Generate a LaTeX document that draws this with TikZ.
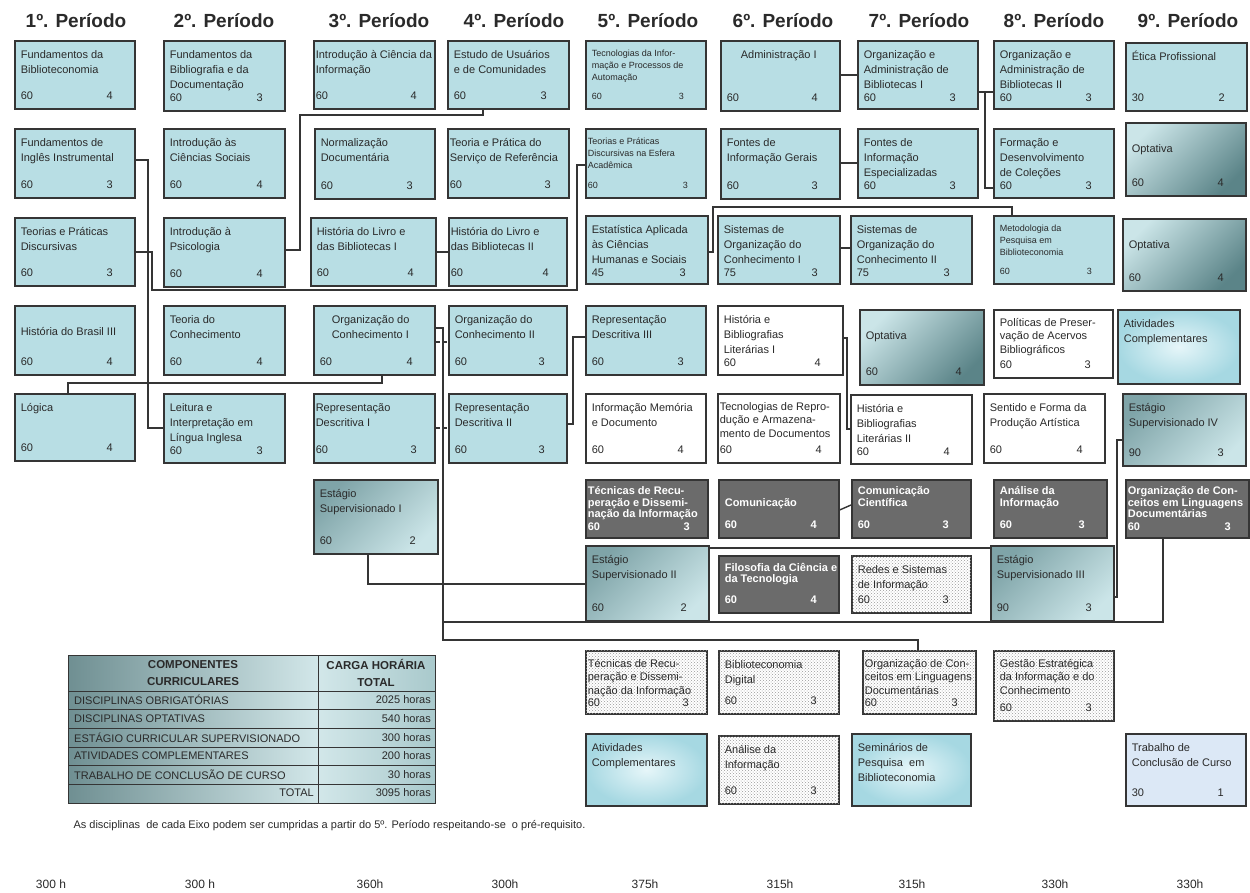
\documentclass[tikz,border=0pt]{standalone}
\usepackage{fontspec}
\setmainfont{Liberation Sans}
\usetikzlibrary{patterns}

\definecolor{boxblue}{HTML}{B8DEE4}
\definecolor{boxline}{HTML}{353535}
\definecolor{txt}{HTML}{2A2A2A}
\definecolor{darkfill}{HTML}{6B6B6B}
\definecolor{gradlight}{HTML}{CBE5E8}
\definecolor{graddark}{HTML}{5B8488}
\definecolor{stagedark}{HTML}{7FA4A8}
\definecolor{bubin}{HTML}{E6F6F9}
\definecolor{bubout}{HTML}{A6D8E2}
\definecolor{tccblue}{HTML}{DCE8F6}
\definecolor{tabdark}{HTML}{6F8F92}
\definecolor{tablight}{HTML}{D2E7E9}
\definecolor{tabmid}{HTML}{A9C9CC}

\newcommand{\discindent}{6pt}
\newcommand{\discdrop}{0pt}
% one course box: name, style, corner, width, height, title, hours, credits
\newcommand{\disc}[8]{%
  \node[box, #2, inner xsep=\discindent, anchor=north west] (#1) at #3
    {\begin{minipage}[t][\dimexpr#5pt-14pt\relax][s]{\dimexpr#4pt-\discindent-\discindent\relax}%
      \vspace*{\discdrop}\begin{tabular}[t]{@{}l@{}}#6\end{tabular}\par\vfill
      #7\hfill #8\hspace*{16pt}\par\vspace*{2pt}\end{minipage}};%
}

\tikzset{
  box/.style={draw=boxline, line width=1.6pt, fill=boxblue, text=txt,
    inner ysep=7pt, font=\fontsize{11}{15}\selectfont},
  whitebox/.style={fill=white},
  darkbox/.style={fill=darkfill, text=white, font=\bfseries\fontsize{11}{11.5}\selectfont},
  dotbox/.style={fill=white, postaction={pattern=crosshatch dots, pattern color=gray!80}},
  optbox/.style={top color=gradlight, bottom color=graddark, shading angle=45},
  stagebox/.style={top color=stagedark, bottom color=gradlight, shading angle=45},
  bubble/.style={inner color=bubin, outer color=bubout},
  tccbox/.style={fill=tccblue},
  smalltxt/.style={font=\fontsize{9}{12}\selectfont},
  densetxt/.style={font=\fontsize{11}{13.5}\selectfont},
  tightbox/.code={\def\discindent{2pt}},
  dropbox/.code={\def\discdrop{12pt}},
  link/.style={draw=boxline, line width=1.4pt},
  head/.style={font=\bfseries\fontsize{19}{21}\selectfont, text=txt},
  tabrule/.style={draw=boxline, line width=1pt},
  tabhead/.style={font=\bfseries\fontsize{11.5}{17}\selectfont, align=center, text=txt},
  tabcell/.style={font=\fontsize{11}{12}\selectfont, inner sep=0pt, text=txt},
  note/.style={font=\fontsize{11}{13}\selectfont, text=txt},
  hours/.style={font=\fontsize{12}{14}\selectfont, text=txt}
}

\begin{document}
\begin{tikzpicture}[x=1pt, y=-1pt]
    \useasboundingbox (0,0) rectangle (1250,892);
    \fill[white] (0,0) rectangle (1250,892);

    % Periods
    \foreach \n/\x in {1/76, 2/224, 3/379, 4/514, 5/648, 6/783, 7/919, 8/1054, 9/1188}
      \node[head] (p\n) at (\x,21) {{\n}º. Período};

    % 1st row
    \disc{fb}{}{(14,40)}{120}{68}{Fundamentos da\\Biblioteconomia}{60}{4}
    \disc{fbd}{}{(163,40)}{121}{70}{Fundamentos da\\Bibliografia e da\\Documentação}{60}{3}
    \disc{ici}{tightbox}{(313,40)}{121}{68}{Introdução à Ciência da\\Informação}{60}{4}
    \disc{euc}{}{(447,40)}{121}{68}{Estudo de Usuários\\e de Comunidades}{60}{3}
    \disc{tip}{smalltxt}{(585,40)}{120}{68}{Tecnologias da Infor-\\mação e Processos de\\Automação}{60}{3}
    \disc{adm}{}{(720,40)}{119}{70}{\hspace*{14pt}Administração I}{60}{4}
    \disc{oab1}{}{(857,40)}{120}{68}{Organização e\\Administração de\\Bibliotecas I}{60}{3}
    \disc{oab2}{}{(993,40)}{120}{68}{Organização e\\Administração de\\Bibliotecas II}{60}{3}
    \disc{etp}{}{(1125,42)}{121}{68}{Ética Profissional}{30}{2}

    % 2nd row
    \disc{fii}{}{(14,128)}{120}{69}{Fundamentos de\\Inglês Instrumental}{60}{3}
    \disc{ics}{}{(163,128)}{121}{69}{Introdução às\\Ciências Sociais}{60}{4}
    \disc{nd}{}{(314,128)}{120}{70}{Normalização\\Documentária}{60}{3}
    \disc{tps}{tightbox}{(447,128)}{121}{69}{Teoria e Prática do\\Serviço de Referência}{60}{3}
    \disc{tpe}{smalltxt, tightbox}{(585,128)}{120}{69}{Teorias e Práticas\\Discursivas na Esfera\\Acadêmica}{60}{3}
    \disc{fig}{}{(720,128)}{119}{70}{Fontes de\\Informação Gerais}{60}{3}
    \disc{fie}{}{(857,128)}{120}{69}{Fontes de\\Informação\\Especializadas}{60}{3}
    \disc{fdc}{}{(993,128)}{120}{69}{Formação e\\Desenvolvimento\\de Coleções}{60}{3}
    \disc{opt1}{optbox, dropbox}{(1125,122)}{120}{73}{Optativa}{60}{4}

    % 3rd row
    \disc{tpd}{}{(14,217)}{120}{68}{Teorias e Práticas\\Discursivas}{60}{3}
    \disc{ip}{}{(163,217)}{121}{69}{Introdução à\\Psicologia}{60}{4}
    \disc{hl1}{}{(310,217)}{125}{68}{História do Livro e\\das Bibliotecas I}{60}{4}
    \disc{hl2}{tightbox}{(448,217)}{118}{68}{História do Livro e\\das Bibliotecas II}{60}{4}
    \disc{eac}{}{(585,215)}{122}{68}{Estatística Aplicada\\às Ciências\\Humanas e Sociais}{45}{3}
    \disc{soc1}{}{(717,215)}{122}{68}{Sistemas de\\Organização do\\Conhecimento I}{75}{3}
    \disc{soc2}{}{(850,215)}{121}{68}{Sistemas de\\Organização do\\Conhecimento II}{75}{3}
    \disc{mpb}{smalltxt}{(993,215)}{120}{68}{Metodologia da\\Pesquisa em\\Biblioteconomia}{60}{3}
    \disc{opt2}{optbox, dropbox}{(1122,218)}{123}{72}{Optativa}{60}{4}

    % 4th row
    \disc{hb}{dropbox}{(14,305)}{120}{69}{História do Brasil III}{60}{4}
    \disc{tc}{}{(163,305)}{121}{69}{Teoria do\\Conhecimento}{60}{4}
    \disc{oc1}{}{(313,305)}{121}{69}{\hspace*{12pt}Organização do\\\hspace*{12pt}Conhecimento I}{60}{4}
    \disc{oc2}{}{(448,305)}{118}{69}{Organização do\\Conhecimento II}{60}{3}
    \disc{rd3}{}{(585,305)}{120}{69}{Representação\\Descritiva III}{60}{3}
    \disc{hbl1}{whitebox}{(717,305)}{125}{69}{História e\\Bibliografias\\Literárias I}{60}{4}
    \disc{opt3}{optbox, dropbox}{(859,309)}{124}{75}{Optativa}{60}{4}
    \disc{ppa}{whitebox, densetxt}{(993,309)}{119}{68}{Políticas de Preser-\\vação de Acervos\\Bibliográficos}{60}{3}
    \disc{atc1}{bubble}{(1117,309)}{122}{74}{Atividades\\Complementares}{}{}

    % 5th row
    \disc{lg}{}{(14,393)}{120}{67}{Lógica}{60}{4}
    \disc{lil}{}{(163,393)}{121}{69}{Leitura e\\Interpretação em\\Língua Inglesa}{60}{3}
    \disc{rd1}{tightbox}{(313,393)}{121}{69}{Representação\\Descritiva I}{60}{3}
    \disc{rd2}{}{(448,393)}{118}{69}{Representação\\Descritiva II}{60}{3}
    \disc{imd}{whitebox}{(585,393)}{120}{69}{Informação Memória\\e Documento}{60}{4}
    \disc{trd}{whitebox, densetxt, tightbox}{(717,393)}{122}{69}{Tecnologias de Repro-\\dução e Armazena-\\mento de Documentos}{60}{4}
    \disc{hbl2}{whitebox}{(850,394)}{121}{69}{História e\\Bibliografias\\Literárias II}{60}{4}
    \disc{sfp}{whitebox}{(983,393)}{121}{69}{Sentido e Forma da\\Produção Artística}{60}{4}
    \disc{es4}{stagebox}{(1122,393)}{123}{72}{Estágio\\Supervisionado IV}{90}{3}

    % 6th row
    \disc{es1}{stagebox}{(313,479)}{124}{74}{Estágio\\Supervisionado I}{60}{2}
    \disc{trdi}{darkbox, tightbox}{(585,479)}{122}{58}{Técnicas de Recu-\\peração e Dissemi-\\nação da Informação}{60}{3}
    \disc{com}{darkbox, dropbox}{(718,479)}{120}{58}{Comunicação}{60}{4}
    \disc{cc}{darkbox}{(851,479)}{119}{58}{Comunicação\\Científica}{60}{3}
    \disc{ai}{darkbox}{(993,479)}{113}{58}{Análise da\\Informação}{60}{3}
    \disc{ocl1}{darkbox, tightbox}{(1125,479)}{123}{58}{Organização de Con-\\ceitos em Linguagens\\Documentárias}{60}{3}

    % 7th row
    \disc{es2}{stagebox}{(585,545)}{123}{75}{Estágio\\Supervisionado II}{60}{2}
    \disc{fct}{darkbox}{(718,555)}{120}{57}{Filosofia da Ciência e\\da Tecnologia}{60}{4}
    \disc{rsi}{dotbox}{(851,555)}{119}{57}{Redes e Sistemas\\de Informação}{60}{3}
    \disc{es3}{stagebox}{(990,545)}{123}{75}{Estágio\\Supervisionado III}{90}{3}

    % Eixo
    \disc{trdb}{dotbox, densetxt, tightbox}{(585,650)}{121}{63}{Técnicas de Recu-\\peração e Dissemi-\\nação da Informação}{60}{3}
    \disc{bd}{dotbox}{(718,650)}{120}{63}{Biblioteconomia\\Digital}{60}{3}
    \disc{oclb}{dotbox, densetxt, tightbox}{(862,650)}{113}{63}{Organização de Con-\\ceitos em Linguagens\\Documentárias}{60}{3}
    \disc{gei}{dotbox, densetxt}{(993,650)}{120}{70}{Gestão Estratégica\\da Informação e do\\Conhecimento}{60}{3}
    \disc{atc2}{bubble}{(585,733)}{121}{72}{Atividades\\Complementares}{}{}
    \disc{aib}{dotbox}{(718,735)}{120}{68}{Análise da\\Informação}{60}{3}
    \disc{spb}{bubble}{(851,733)}{119}{72}{Seminários de\\Pesquisa\ \ em\\Biblioteconomia}{}{}
    \disc{tcc}{tccbox}{(1125,733)}{120}{72}{Trabalho de\\Conclusão de Curso}{30}{1}

    % Pre-requisites
    \draw[link] (fii.east |- 0,160) -- (148,160) -- (148,428) -- (lil.west |- 0,428);
    \draw[link] (tpd.east |- 0,252) -- (152,252) -- (152,290) -- (577,290) -- (577,165) -- (tpe.west |- 0,165);
    \draw[link] (ip.east |- 0,250) -- (300,250) -- (300,115) -- (483,115) -- (euc.south -| 483,0);
    \draw[link] (lg.north -| 68,0) -- (68,383) -- (382,383) -- (oc1.south -| 382,0);
    \draw[link] (hl1.east |- 0,252) -- (hl2.west |- 0,252);
    \draw[link] (rd2.east |- 0,424) -- (573,424) -- (573,337) -- (rd3.west |- 0,337);
    \draw[link] (eac.east |- 0,252) -- (713,252) -- (713,207) -- (1012,207) -- (mpb.north -| 1012,0);
    \draw[link] (soc1.east |- 0,248) -- (soc2.west |- 0,248);
    \draw[link] (adm.east |- 0,75) -- (oab1.west |- 0,75);
    \draw[link] (fig.east |- 0,163) -- (fie.west |- 0,163);
    \draw[link] (oab1.east |- 0,92) -- (oab2.west |- 0,92);
    \draw[link] (985,92) -- (985,188) -- (fdc.west |- 0,188);
    \draw[link] (hbl1.east |- 0,338) -- (847,338) -- (847,429) -- (hbl2.west |- 0,429);
    \draw[link, dash pattern=on 4pt off 3pt] (oc1.east |- 0,342) -- (oc2.west |- 0,342);
    \draw[link, dash pattern=on 4pt off 3pt] (rd1.east |- 0,428) -- (rd2.west |- 0,428);
    \draw[link] (es1.south -| 368,0) -- (368,584) -- (es2.west |- 0,584);
    \draw[link] (es2.east |- 0,548) -- (es3.west |- 0,548);
    \draw[link] (es4.west |- 0,440) -- (1117,440) -- (1117,597) -- (es3.east |- 0,597);
    \draw[link] (com.east |- 0,510) -- (cc.west |- 0,505);
    % Eixo line
    \draw[link] (oc1.east |- 0,328) -- (443,328) -- (443,640) -- (918,640) -- (oclb.north -| 918,0);
    \draw[link] (ocl1.south -| 1163,0) -- (1163,622) -- (443,622);

    % Summary table
    \shade[left color=tabdark, right color=tablight] (68,655) rectangle (318,803);
    \shade[left color=tablight, right color=tabmid] (318,655) rectangle (435,803);
    \foreach \i in {0,...,5}
      \draw[tabrule] (68,{691+18.67*\i}) -- (435,{691+18.67*\i});
    \draw[tabrule] (68,655) rectangle (435,803) (318,655) -- (318,803);
    \node[tabhead] (comp) at (193,673) {COMPONENTES\\CURRICULARES};
    \node[tabhead] (carga) at (376,673) {CARGA HORÁRIA\\TOTAL};
    \foreach \t/\h [count=\i from 0] in {DISCIPLINAS OBRIGATÓRIAS/2025, DISCIPLINAS OPTATIVAS/540,
        ESTÁGIO CURRICULAR SUPERVISIONADO/300, ATIVIDADES COMPLEMENTARES/200,
        TRABALHO DE CONCLUSÃO DE CURSO/30}{
      \node[tabcell, anchor=west] (r\i) at (74,{700+18.67*\i}) {\t};
      \node[tabcell, anchor=east] (c\i) at (431,{700+18.67*\i}) {\h\ horas};
    }
    \node[tabcell, anchor=east] (rt) at (314,793) {TOTAL};
    \node[tabcell, anchor=east] (ct) at (431,793) {3095 horas};

    % Notes
    \node[note, anchor=west] (nota) at (70,826) {As disciplinas\ \ de cada Eixo podem ser cumpridas a partir do 5º. Período respeitando-se\ \ o pré-requisito.};
    \foreach \x/\h [count=\i] in {51/300 h, 200/300 h, 370/360h, 505/300h, 645/375h, 780/315h, 912/315h, 1055/330h, 1190/330h}
      \node[hours] (t\i) at (\x,884) {\h};
\end{tikzpicture}
\end{document}
